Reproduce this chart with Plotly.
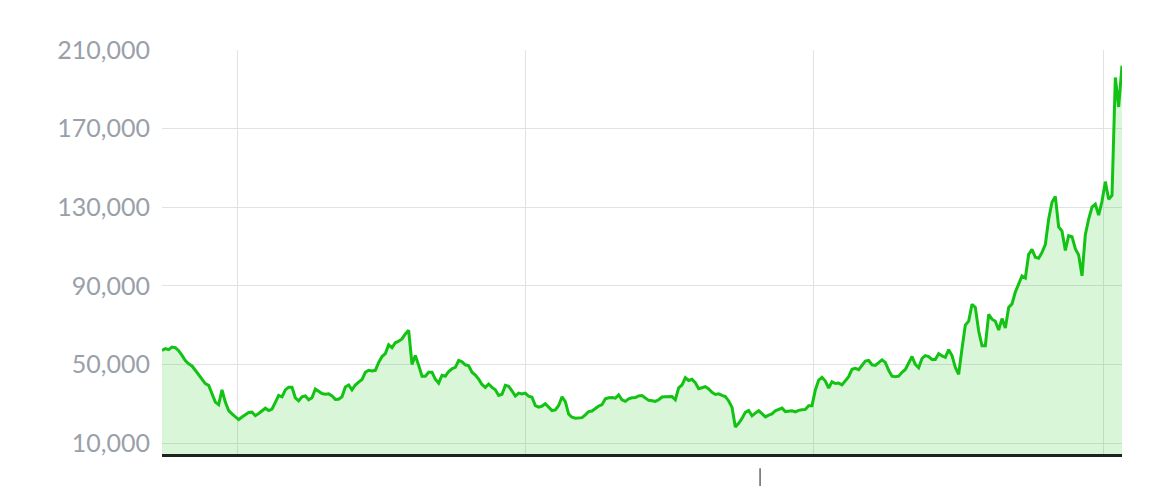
import pandas as pd
import plotly.graph_objects as go

# Series values in thousands, evenly spaced in time from start to end date
start_date = "2017-09-28"
end_date = "2021-01-25"
values_k = [
    57.1, 58, 57.5, 58.8, 58.5, 57, 54.6, 52, 50.3, 49.2,
    47, 44.7, 42.7, 40.2, 39.3, 35, 30.8, 29.5, 37, 30.8,
    26.5, 24.8, 23.5, 21.9, 23.2, 24.3, 25.5, 25.7, 23.9, 25,
    26.5, 27.7, 26.5, 27.3, 30.7, 34.2, 33.5, 37, 38.4, 38.4,
    33, 31.5, 33.5, 34, 32, 33, 37.5, 36.5, 35.2, 34.8,
    35, 34, 32.2, 32.3, 33.5, 38.5, 39.5, 37, 39.5, 41,
    42.3, 46, 47, 46.7, 47, 51, 54, 55.5, 60, 58.5,
    61, 61.8, 63, 65.5, 67.3,
    50, 54.5, 49.5, 44, 44, 46, 46, 42.5, 40.5, 44.5,
    44, 46.4, 47.8, 48.5, 52, 51.3, 49.8, 49.3, 46, 44.6,
    42.5, 39.8, 38.3, 40, 38.3, 37.1, 34.2, 34.8, 39.3, 38.8,
    36.5, 33.9, 35.4, 35, 35.4, 33.8, 33.3, 29, 28.2, 28.8,
    30, 28.4, 26.5, 26.8, 29.1, 33.5, 31, 24.7, 23.1, 22.6,
    22.8, 22.9, 24.3, 26, 26.3, 27.5, 28.8, 29.5, 32.5, 33,
    33.1, 32.8, 34.5, 32, 31.2, 32.5, 33, 33.1, 34,
    34.2, 33, 31.7, 31.5, 31.2, 32, 33.4, 33.5, 33.7, 33.6,
    32, 38.1, 39.5, 43.2, 41.8, 42.4, 40.7, 37.6, 38.1, 38.7,
    37.5, 35.8, 34.7, 35, 34.2, 33.6, 31.4, 28.2, 18.1, 20,
    22.5, 25.6, 26.5, 23.8, 25.2, 26.4, 24.9, 23.3, 24.2, 24.8,
    26.4, 27, 27.8, 26, 26.3, 26.4, 25.8, 26.6, 26.9, 27.1,
    29, 29, 37, 42, 43.4, 41.5, 38, 41.2, 40.3, 40.5,
    39.6, 41.5, 43.8, 47.5, 48, 47.3, 49.5, 51.7, 52, 49.8,
    49.5, 51,
    52.3, 51, 47, 44, 43.7, 44, 46, 47.4, 50.5, 54,
    50, 48.3, 53, 54.5, 54, 52.5, 52.5, 55.5, 54.3, 53.6,
    57.5, 54.5, 48.5, 45, 58, 70, 72, 80.6, 79, 67,
    59.5, 59.5, 75.5, 73, 72, 67.5, 73.3, 68.5, 79, 80.8,
    86.8, 91.2, 95, 94, 106, 108.5, 104.5, 104, 107, 111,
    124, 132.5, 135.5, 120, 117.8, 108, 115.5, 115, 108.9, 105.7,
    95.1, 116, 124, 130, 131.5, 126, 133, 143, 134, 136,
    196, 181, 202,
]
y_ticks = [10000, 50000, 90000, 130000, 170000, 210000]
y_min = 4400
y_max = 210000

dates = pd.date_range(start_date, end_date, periods=len(values_k))
values = [v * 1000 for v in values_k]

fig = go.Figure()
fig.add_trace(go.Scatter(
    x=dates, y=values, mode="lines",
    line=dict(color="#13c313", width=3),
    fill="tozeroy", fillcolor="rgba(20,200,20,0.16)",
    hoverinfo="skip", showlegend=False,
))

fig.update_layout(
    width=1162, height=478,
    margin=dict(l=154, r=48, t=42, b=32),
    paper_bgcolor="white", plot_bgcolor="white",
    font=dict(family="Lato, 'Open Sans', sans-serif"),
    xaxis=dict(
        type="date", range=[dates[0], dates[-1]],
        showgrid=True, gridcolor="#e0e2e8", gridwidth=1.2,
        dtick="M12", tick0="2018-01-01",
        showticklabels=False, ticks="",
        showline=True, linecolor="#1e2220", linewidth=3,
        zeroline=False, fixedrange=True,
    ),
    yaxis=dict(
        range=[y_min, y_max], tickvals=y_ticks, tickformat=",d",
        showgrid=True, gridcolor="#e0e2e8", gridwidth=1.2,
        zeroline=False, showline=False, ticks="",
        ticklabelstandoff=11,
        tickfont=dict(size=25, color="#9aa0a9", family="Lato, 'Open Sans', sans-serif"),
        fixedrange=True,
    ),
)

fig.add_shape(type="line", xref="paper", yref="paper",
              x0=0.623, x1=0.623, y0=-0.035, y1=-0.08,
              line=dict(color="#666666", width=1.5))

fig.write_html("out.html")
